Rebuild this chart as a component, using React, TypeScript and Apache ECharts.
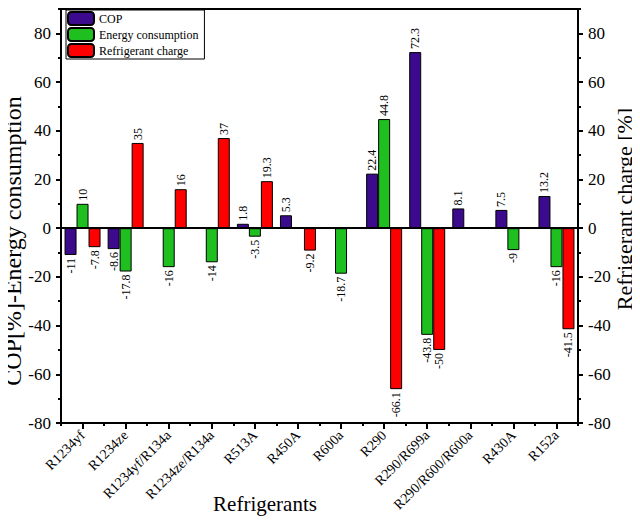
import React, { useEffect, useRef } from "react";
import * as echarts from "echarts";

const categories = [
  "R1234yf",
  "R1234ze",
  "R1234yf/R134a",
  "R1234ze/R134a",
  "R513A",
  "R450A",
  "R600a",
  "R290",
  "R290/R699a",
  "R290/R600/R600a",
  "R430A",
  "R152a",
];
const copValues = [-11, -8.6, null, null, 1.8, 5.3, null, 22.4, 72.3, 8.1, 7.5, 13.2];
const energyValues = [10, -17.8, -16, -14, -3.5, null, -18.7, 44.8, -43.8, null, -9, -16];
const chargeValues = [-7.8, 35, 16, 37, 19.3, -9.2, null, -66.1, -50, null, null, -41.5];
const seriesNames = ["COP", "Energy consumption", "Refrigerant charge"];
const seriesColors = ["#3c0a8c", "#1fbf1f", "#ff0000"];
const yMin = -80;
const yMax = 90;
const yMajor = 20;
const yMinor = 10;

const FONT = "Liberation Serif";

function toData(values: (number | null)[]) {
  return values.map((v) => {
    if (v === null) return "-";
    const pos = v >= 0;
    return {
      value: v,
      label: {
        show: true,
        position: pos ? "top" : "bottom",
        rotate: 90,
        align: pos ? "left" : "right",
        verticalAlign: "middle",
        distance: 3,
        fontFamily: FONT,
        fontSize: 12,
        color: "#000",
        formatter: "{c}",
      },
    };
  });
}

export default function App() {
  const ref = useRef<HTMLDivElement>(null);
  useEffect(() => {
    if (!ref.current) return;
    const chart = echarts.init(ref.current, null, { renderer: "svg" });
    const gridLeft = 61;
    const gridRight = 62;
    const gridTop = 9;
    const gridBottom = 103;

    const majorY = (position: "left" | "right") => ({
      type: "value",
      position,
      min: yMin,
      max: yMax,
      interval: yMajor,
      axisLine: { show: true, lineStyle: { color: "#000", width: 2 } },
      axisTick: { show: true, length: 5, lineStyle: { color: "#000", width: 2 } },
      axisLabel: {
        show: true,
        showMaxLabel: false,
        margin: 10,
        fontFamily: FONT,
        fontSize: 17,
        color: "#000",
      },
      splitLine: { show: false },
    });
    const minorY = (position: "left" | "right") => ({
      type: "value",
      position,
      min: yMin,
      max: yMax,
      interval: yMinor,
      axisLine: { show: false },
      axisTick: { show: true, length: 3, lineStyle: { color: "#000", width: 2 } },
      axisLabel: { show: false },
      splitLine: { show: false },
    });

    const option: any = {
      animation: false,
      backgroundColor: "#fff",
      textStyle: { fontFamily: FONT },
      grid: {
        left: gridLeft,
        right: gridRight,
        top: gridTop,
        bottom: gridBottom,
        show: true,
        borderColor: "#000",
        borderWidth: 2,
        backgroundColor: "transparent",
      },
      legend: {
        orient: "vertical",
        left: 66,
        top: 10,
        itemWidth: 26,
        itemHeight: 13,
        itemGap: 1,
        padding: [1, 6, 1, 1],
        borderColor: "#000",
        borderWidth: 1,
        backgroundColor: "#fff",
        textStyle: { fontFamily: FONT, fontSize: 12, color: "#000" },
        data: seriesNames,
      },
      xAxis: [
        {
          type: "category",
          data: categories,
          position: "bottom",
          axisLine: { show: true, onZero: false, lineStyle: { color: "#000", width: 2 } },
          axisTick: { show: true, alignWithLabel: true, length: 6, lineStyle: { color: "#000", width: 2 } },
          axisLabel: {
            interval: 0,
            rotate: 45,
            margin: 10,
            fontFamily: FONT,
            fontSize: 14,
            color: "#000",
          },
          splitLine: { show: false },
        },
        {
          type: "category",
          data: categories,
          position: "bottom",
          axisLine: { show: false, onZero: false },
          axisTick: { show: true, length: 3, interval: 0, lineStyle: { color: "#000", width: 2 } },
          axisLabel: { show: false },
          splitLine: { show: false },
        },
      ],
      yAxis: [majorY("left"), majorY("right"), minorY("left"), minorY("right")],
      graphic: [
        {
          type: "text",
          x: 13,
          y: 241,
          rotation: Math.PI / 2,
          style: {
            text: "COP[%]-Energy consumption",
            fontFamily: FONT,
            fontSize: 24,
            fill: "#000",
            align: "center",
            verticalAlign: "middle",
          },
        },
        {
          type: "text",
          x: 624,
          y: 209,
          rotation: Math.PI / 2,
          style: {
            text: "Refrigerant charge [%]",
            fontFamily: FONT,
            fontSize: 22,
            fill: "#000",
            align: "center",
            verticalAlign: "middle",
          },
        },
        {
          type: "text",
          x: 265,
          y: 504,
          style: {
            text: "Refrigerants",
            fontFamily: FONT,
            fontSize: 21,
            fill: "#000",
            align: "center",
            verticalAlign: "middle",
          },
        },
      ],
      series: [
        {
          name: seriesNames[0],
          type: "bar",
          xAxisIndex: 0,
          yAxisIndex: 0,
          barWidth: 12,
          barGap: "0%",
          itemStyle: { color: seriesColors[0], borderColor: "#000", borderWidth: 1 },
          data: toData(copValues),
          markLine: {
            silent: true,
            symbol: ["none", "none"],
            label: { show: false },
            lineStyle: { color: "#000", width: 2, type: "solid" },
            data: [{ yAxis: 0 }],
          },
        },
        {
          name: seriesNames[1],
          type: "bar",
          xAxisIndex: 0,
          yAxisIndex: 0,
          barWidth: 12,
          barGap: "0%",
          itemStyle: { color: seriesColors[1], borderColor: "#000", borderWidth: 1 },
          data: toData(energyValues),
        },
        {
          name: seriesNames[2],
          type: "bar",
          xAxisIndex: 0,
          yAxisIndex: 1,
          barWidth: 12,
          barGap: "0%",
          itemStyle: { color: seriesColors[2], borderColor: "#000", borderWidth: 1 },
          data: toData(chargeValues),
        },
      ],
    };
    chart.setOption(option);
    return () => chart.dispose();
  }, []);
  return <div ref={ref} style={{ width: 640, height: 526, margin: -8 }} />;
}
